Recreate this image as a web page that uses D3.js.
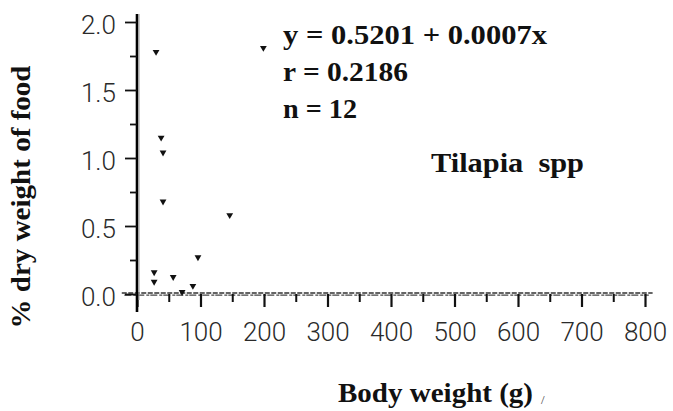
<!DOCTYPE html>
<html>
<head>
<meta charset="utf-8">
<script src="https://cdn.jsdelivr.net/npm/d3@7"></script>
<style>
    body { margin: 0; background: #fff; }
    .tick-label { font-family: Roboto, sans-serif; font-weight: 300; font-size: 26px; fill: #2a2a2a; }
    .serif-bold { font-family: "Liberation Serif", "Times New Roman", serif; font-weight: bold; fill: #111; white-space: pre; }
</style>
</head>
<body>
<div id="chart-view"></div>
<script>

// Body weight (g) and % dry weight of food
var bodyWeight = [30, 38, 41, 41, 146, 96, 27, 27, 57, 88, 71, 199];
var dryWeight = [1.78, 1.15, 1.04, 0.68, 0.58, 0.27, 0.16, 0.09, 0.125, 0.06, 0.015, 1.81];

var xTicks = [0, 100, 200, 300, 400, 500, 600, 700, 800];
var xMinorTicks = [50, 150, 250, 350, 450, 550, 650, 750];
var yTicks = [0, 0.5, 1.0, 1.5, 2.0];
var yMinorTicks = [0.25, 0.75, 1.25, 1.75];

var statLines = ["y = 0.5201 + 0.0007x", "r = 0.2186", "n = 12"];
var speciesLabel = "Tilapia  spp";


/** Class implementing the scatter view. */
class Scatter {
    /**
     * Creates a Scatter Object
     */
    constructor() {
        //Width and height of picture
        this.width = 673;
        this.height = 411;

        this.svg = d3.select("#chart-view")
            .append("svg")
            .attr("width", this.width)
            .attr("height", this.height);

        this.x = d3.scaleLinear()
            .domain([0, 800])
            .range([137, 645]);

        this.y = d3.scaleLinear()
            .domain([0, 2])
            .range([294, 22]);
    }

    drawAxes() {
        var x = this.x;
        var y = this.y;

        // x axis: the scanned baseline looks like a dark dashed double line
        this.svg.append("line")
            .attr("x1", x(-24)).attr("x2", x(812))
            .attr("y1", y(0) - 1).attr("y2", y(0) - 1)
            .style("stroke", "#333")
            .style("stroke-width", 1.3)
            .style("stroke-dasharray", "5,1.5");
        this.svg.append("line")
            .attr("x1", x(-20)).attr("x2", x(806))
            .attr("y1", y(0) + 1.2).attr("y2", y(0) + 1.2)
            .style("stroke", "#444")
            .style("stroke-width", 1.3)
            .style("stroke-dasharray", "7,2,3,1");

        var xAxis = d3.axisBottom(x)
            .tickValues(xTicks)
            .tickSize(13)
            .tickFormat(d3.format("d"));

        var gx = this.svg.append("g")
            .attr("transform", "translate(0," + y(0) + ")")
            .call(xAxis);
        gx.select(".domain").remove();
        gx.selectAll(".tick line")
            .style("stroke", "#111")
            .style("stroke-width", 2.2);
        gx.selectAll(".tick text")
            .attr("class", "tick-label")
            .attr("y", 47)
            .attr("dy", 0);

        var xMinor = d3.axisBottom(x)
            .tickValues(xMinorTicks)
            .tickSize(8)
            .tickFormat("");
        var gxm = this.svg.append("g")
            .attr("transform", "translate(0," + y(0) + ")")
            .call(xMinor);
        gxm.select(".domain").remove();
        gxm.selectAll(".tick line")
            .style("stroke", "#111")
            .style("stroke-width", 2);

        // y axis: heavy black rule with a grey edge
        this.svg.append("line")
            .attr("x1", x(0)).attr("x2", x(0))
            .attr("y1", 14).attr("y2", 312)
            .style("stroke", "#000")
            .style("stroke-width", 2.6);
        this.svg.append("line")
            .attr("x1", x(0) + 2).attr("x2", x(0) + 2)
            .attr("y1", 14).attr("y2", 300)
            .style("stroke", "#999")
            .style("stroke-width", 1);

        var yAxis = d3.axisLeft(y)
            .tickValues(yTicks)
            .tickSize(12)
            .tickFormat(d3.format(".1f"));
        var gy = this.svg.append("g")
            .attr("transform", "translate(" + x(0) + ",0)")
            .call(yAxis);
        gy.select(".domain").remove();
        gy.selectAll(".tick line")
            .style("stroke", "#111")
            .style("stroke-width", 1.8);
        gy.selectAll(".tick text")
            .attr("class", "tick-label")
            .attr("x", -21)
            .attr("dy", "0.45em");

        var yMinor = d3.axisLeft(y)
            .tickValues(yMinorTicks)
            .tickSize(7)
            .tickFormat("");
        var gym = this.svg.append("g")
            .attr("transform", "translate(" + x(0) + ",0)")
            .call(yMinor);
        gym.select(".domain").remove();
        gym.selectAll(".tick line")
            .style("stroke", "#111")
            .style("stroke-width", 1.8);
    }

    drawPoints() {
        var self = this;
        var points = d3.range(bodyWeight.length).map(function(i) {
            return { bw: bodyWeight[i], dw: dryWeight[i] };
        });

        var marker = d3.symbol().type(d3.symbolTriangle).size(20);

        this.svg.selectAll("path.point")
            .data(points)
            .enter()
            .append("path")
            .attr("class", "point")
            .attr("d", marker)
            .attr("transform", function(d) {
                return "translate(" + self.x(d.bw) + "," + self.y(d.dw) + ") rotate(180)";
            })
            .style("fill", "#111");
    }

    drawLabels() {
        // regression summary
        var widths = [264, 125, 74];
        this.svg.selectAll("text.stat")
            .data(statLines)
            .enter()
            .append("text")
            .attr("class", "stat serif-bold")
            .attr("x", 283)
            .attr("y", function(d, i) { return 44 + i * 37; })
            .attr("textLength", function(d, i) { return widths[i]; })
            .attr("lengthAdjust", "spacingAndGlyphs")
            .style("font-size", "28px")
            .text(function(d) { return d; });

        this.svg.append("text")
            .attr("class", "serif-bold")
            .attr("x", 431)
            .attr("y", 172)
            .attr("textLength", 153)
            .attr("lengthAdjust", "spacingAndGlyphs")
            .style("font-size", "28px")
            .text(speciesLabel);

        // axis titles
        this.svg.append("text")
            .attr("class", "serif-bold")
            .attr("transform", "translate(30,197) rotate(-90)")
            .attr("text-anchor", "middle")
            .attr("textLength", 263)
            .attr("lengthAdjust", "spacingAndGlyphs")
            .style("font-size", "28px")
            .text("% dry weight of food");

        this.svg.append("text")
            .attr("class", "serif-bold")
            .attr("x", 338)
            .attr("y", 402)
            .attr("textLength", 195)
            .attr("lengthAdjust", "spacingAndGlyphs")
            .style("font-size", "27px")
            .text("Body weight (g)");

        this.svg.append("text")
            .attr("x", 541)
            .attr("y", 404)
            .style("font-family", "Liberation Serif, serif")
            .style("font-size", "13px")
            .style("fill", "#444")
            .text("/");
    }
}

var chart = new Scatter();
chart.drawAxes();
chart.drawPoints();
chart.drawLabels();

</script>
</body>
</html>
